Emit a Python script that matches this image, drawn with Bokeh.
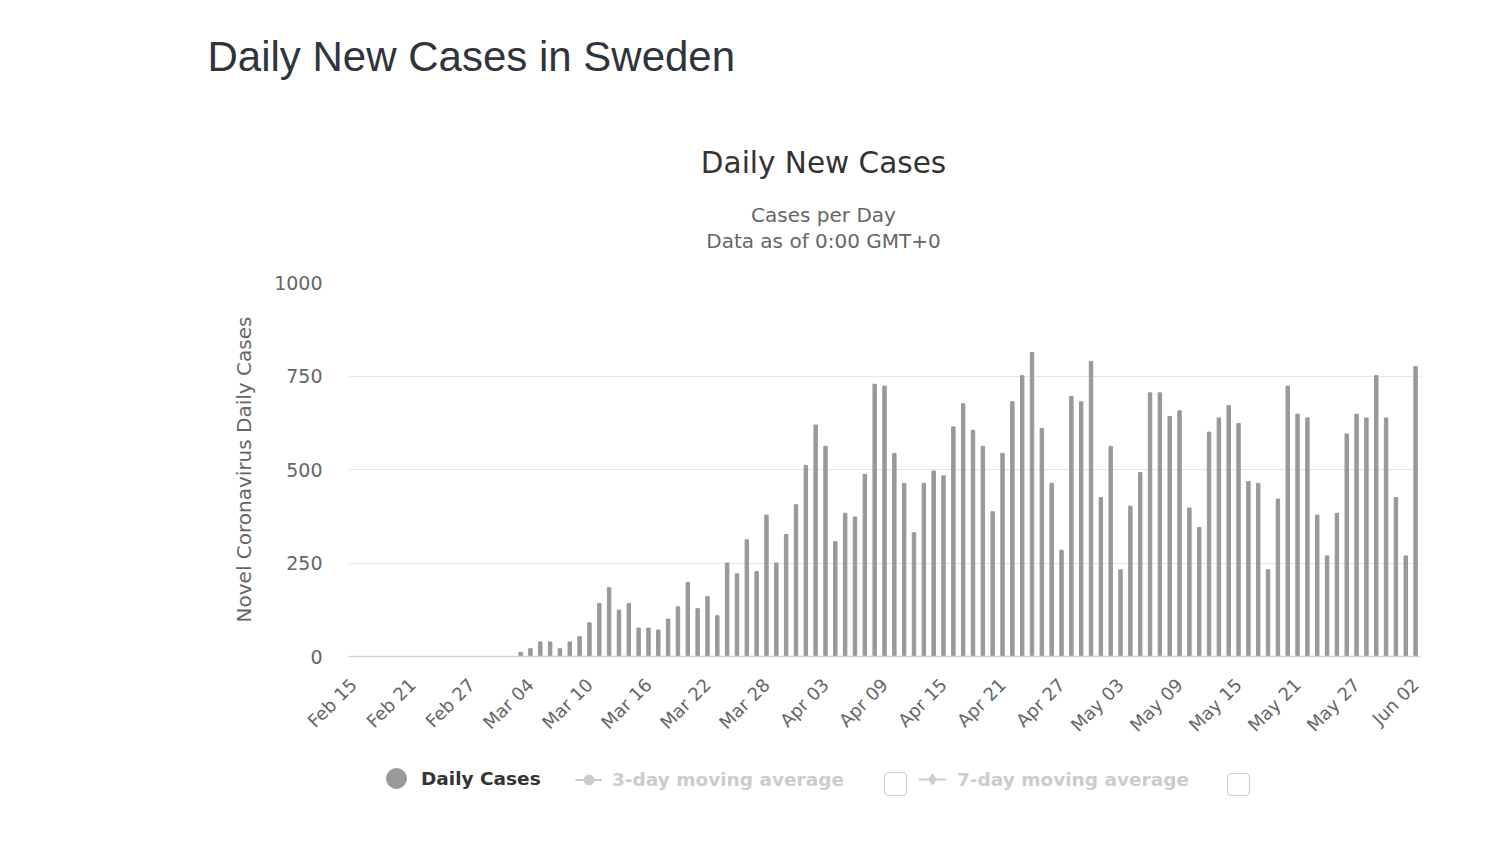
import pandas as pd
from math import pi
from bokeh.plotting import figure
from bokeh.models import Range1d, FixedTicker, Label, Legend, LegendItem, BoxAnnotation, ColumnDataSource
from bokeh.embed import file_html
from bokeh.resources import INLINE

# ---------------- data ----------------
start_date = "2020-02-15"
end_date = "2020-06-02"
dates = pd.date_range(start_date, end_date, freq="D")
date_labels = [d.strftime("%b %d") for d in dates]

feb15_mar02 = [0] * 17
march_03_31 = [11, 21, 39, 39, 21, 39, 53, 90, 142, 184,
               124, 142, 76, 76, 71, 100, 133, 198, 128, 160,
               109, 250, 221, 312, 227, 378, 250, 326, 406]
april = [511, 619, 562, 307, 383, 373, 487, 728, 723, 543,
         463, 331, 463, 496, 483, 614, 676, 605, 562, 387,
         543, 681, 751, 813, 610, 463, 284, 695, 681, 789]
may = [425, 562, 232, 402, 492, 705, 705, 642, 657, 397,
       345, 600, 638, 671, 623, 468, 463, 232, 421, 723,
       648, 638, 378, 269, 383, 595, 648, 638, 751, 638,
       425]
june = [269, 775]
daily_cases = feb15_mar02 + march_03_31 + april + may + june

y_ticks = [0, 250, 500, 750, 1000]
x_tick_step = 6

page_title = "Daily New Cases in Sweden"
chart_title = "Daily New Cases"
subtitle_1 = "Cases per Day"
subtitle_2 = "Data as of 0:00 GMT+0"
y_label = "Novel Coronavirus Daily Cases"
series_names = ["Daily Cases", "3-day moving average", "7-day moving average"]

FONT = "DejaVu Sans"
W = 1485
NAN = float("nan")

def blank_fig(h, y_top, y_bottom):
    # frame covers the whole canvas; data units are page pixels (y downward)
    f = figure(width=W, height=h, output_backend="svg", toolbar_location=None,
               x_range=Range1d(0, W), y_range=Range1d(y_bottom, y_top),
               x_axis_type=None, y_axis_type=None,
               min_border=0, min_border_left=0, min_border_right=0,
               min_border_top=0, min_border_bottom=0)
    f.grid.visible = False
    f.outline_line_color = None
    f.background_fill_color = "white"
    f.border_fill_color = "white"
    return f

# ---------------- header ----------------
HEAD_H = 262
head = blank_fig(HEAD_H, 0, HEAD_H)

def add_text(fig, text, x, y, size, color, font, align="left", style="normal"):
    fig.add_layout(Label(x=x, y=y, text=text, text_font=font, text_font_size=size,
                         text_color=color, text_align=align, text_baseline="alphabetic",
                         text_font_style=style))

add_text(head, page_title, 207, 56, "42px", "#30343c", "Liberation Sans")
add_text(head, chart_title, 823, 162, "29.5px", "#333333", FONT, align="center")
add_text(head, subtitle_1, 823, 214, "20px", "#666666", FONT, align="center")
add_text(head, subtitle_2, 823, 240, "20px", "#666666", FONT, align="center")

# ---------------- main chart ----------------
idx = list(range(len(dates)))
src = ColumnDataSource(dict(x=idx, y=daily_cases, label=date_labels))

MAIN_TOP, MAIN_BOTTOM = HEAD_H, 750
FRAME_TOP, FRAME_BOTTOM, FRAME_LEFT, FRAME_RIGHT = 282, 656, 348, 1420
p = figure(width=W, height=MAIN_BOTTOM - MAIN_TOP, output_backend="svg", toolbar_location=None,
           x_range=Range1d(-0.5, len(idx) - 0.5), y_range=Range1d(0, 1000),
           min_border_left=FRAME_LEFT, min_border_right=W - FRAME_RIGHT,
           min_border_top=FRAME_TOP - MAIN_TOP, min_border_bottom=MAIN_BOTTOM - FRAME_BOTTOM)
p.background_fill_color = "white"
p.border_fill_color = "white"
p.outline_line_color = None

p.vbar(x="x", top="y", width=0.35, source=src, color="#999999")

p.xgrid.grid_line_color = None
p.ygrid.grid_line_color = "#e6e6e6"
p.ygrid.grid_line_width = 1

xa = p.xaxis[0]
tick_idx = idx[::x_tick_step]
xa.ticker = FixedTicker(ticks=tick_idx)
xa.major_label_overrides = {i: date_labels[i] for i in tick_idx}
xa.major_label_orientation = pi / 4
xa.major_label_text_font = FONT
xa.major_label_text_font_size = "18px"
xa.major_label_text_color = "#666666"
xa.major_label_standoff = 19
xa.axis_line_color = "#ccd6eb"
xa.axis_line_width = 1.5
xa.major_tick_line_color = None
xa.minor_tick_line_color = None

ya = p.yaxis[0]
ya.ticker = FixedTicker(ticks=y_ticks)
ya.major_label_text_font = FONT
ya.major_label_text_font_size = "19px"
ya.major_label_text_color = "#666666"
ya.major_label_standoff = 20
ya.axis_line_color = None
ya.major_tick_line_color = None
ya.minor_tick_line_color = None
ya.axis_label = y_label
ya.axis_label_text_font = FONT
ya.axis_label_text_font_size = "20px"
ya.axis_label_text_font_style = "normal"
ya.axis_label_text_color = "#666666"
ya.axis_label_standoff = 15

# ---------------- legend strip ----------------
LEG_TOP, LEG_BOTTOM = MAIN_BOTTOM, 830
leg = blank_fig(LEG_BOTTOM - LEG_TOP, LEG_TOP, LEG_BOTTOM)

# legend-only renderers (no visible data point)
r_daily = leg.scatter(x=[NAN], y=[NAN], marker="circle", color="#999999")
r_ma3_line = leg.line(x=[NAN], y=[NAN], color="#cccccc", line_width=2)
r_ma3_pt = leg.scatter(x=[NAN], y=[NAN], marker="circle", color="#cccccc")
r_ma7_line = leg.line(x=[NAN], y=[NAN], color="#cccccc", line_width=2)
r_ma7_pt = leg.scatter(x=[NAN], y=[NAN], marker="diamond", angle=pi / 2, color="#cccccc")

def add_legend(item, px_left, py_center, gw, gh, standoff, color):
    lg = Legend(items=[item], location=(px_left, LEG_BOTTOM - (py_center + gh / 2)),
                orientation="horizontal", glyph_width=gw, glyph_height=gh,
                label_standoff=standoff, padding=0, margin=0, spacing=0,
                border_line_color=None, background_fill_alpha=0,
                label_text_font=FONT, label_text_font_size="18.5px",
                label_text_font_style="bold", label_text_color=color)
    leg.add_layout(lg, "center")

add_legend(LegendItem(label=series_names[0], renderers=[r_daily]), 371, 778, 50, 50, 0, "#333333")
add_legend(LegendItem(label=series_names[1], renderers=[r_ma3_line, r_ma3_pt]), 575, 779, 27, 25, 10, "#cccccc")
add_legend(LegendItem(label=series_names[2], renderers=[r_ma7_line, r_ma7_pt]), 918, 779, 28, 28, 11, "#cccccc")

for (l, r, t, b) in [(884, 906, 772, 795), (1227, 1249, 773, 795)]:
    leg.add_layout(BoxAnnotation(left=l, right=r, top=t, bottom=b,
                                 fill_color="white", fill_alpha=1,
                                 line_color="#5f5f5f", line_width=1.2, border_radius=4))

open("out.html", "w").write(file_html([head, p, leg], INLINE))
